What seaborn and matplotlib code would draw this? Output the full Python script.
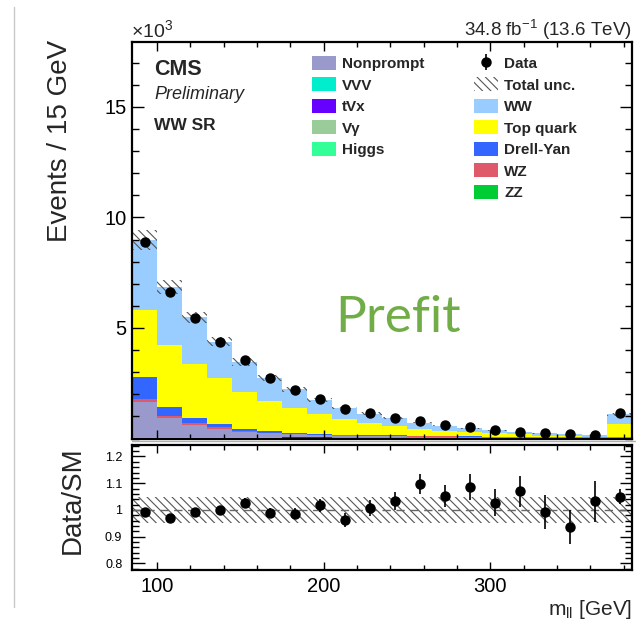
import numpy as np
import pandas as pd
import matplotlib
matplotlib.use("Agg")
import matplotlib.pyplot as plt
import seaborn as sns
from matplotlib.patches import Patch
from matplotlib.lines import Line2D
from matplotlib.ticker import MultipleLocator, FixedLocator, FuncFormatter, NullFormatter

# ---------------- data (events in thousands, 15 GeV bins) ----------------
bin_edges = [85, 100, 115, 130, 145, 160, 175, 190, 205, 220, 235,
             250, 265, 280, 295, 310, 325, 340, 355, 370, 385]

data = [8.90, 6.64, 5.43, 4.38, 3.55, 2.72, 2.19, 1.77, 1.33, 1.14,
        0.94, 0.79, 0.61, 0.51, 0.38, 0.31, 0.235, 0.19, 0.16, 1.14]
data_err = [0.09, 0.08, 0.07, 0.066, 0.06, 0.052, 0.047, 0.042, 0.036, 0.034,
            0.03, 0.027, 0.024, 0.023, 0.019, 0.017, 0.015, 0.013, 0.012, 0.03]

ww = [3.17, 2.62, 2.11, 1.66, 1.34, 1.05, 0.84, 0.65, 0.51, 0.44,
      0.34, 0.28, 0.23, 0.17, 0.12, 0.10, 0.107, 0.103, 0.075, 0.446]
top = [3.04, 2.79, 2.43, 2.06, 1.69, 1.37, 1.12, 0.87, 0.69, 0.53,
       0.43, 0.32, 0.24, 0.20, 0.16, 0.11, 0.06, 0.035, 0.02, 0.55]
dy = [1.00, 0.42, 0.25, 0.15, 0.07, 0.06, 0.05, 0.04, 0.03, 0.025,
      0.02, 0.02, 0.015, 0.015, 0.012, 0.01, 0.008, 0.007, 0.007, 0.01]
wz = [0.11, 0.08, 0.08, 0.08, 0.07, 0.04, 0.02, 0.02, 0.015, 0.015,
      0.015, 0.01, 0.01, 0.01, 0.008, 0.008, 0.007, 0.006, 0.006, 0.01]
nonprompt = [1.57, 0.86, 0.54, 0.365, 0.23, 0.175, 0.14, 0.11, 0.09, 0.08,
             0.065, 0.055, 0.05, 0.045, 0.04, 0.037, 0.03, 0.032, 0.027, 0.03]
zz = [0.045, 0.040, 0.035, 0.033, 0.030, 0.028, 0.025, 0.025, 0.023, 0.020,
      0.020, 0.018, 0.018, 0.015, 0.015, 0.013, 0.013, 0.010, 0.010, 0.020]
higgs = [0.023, 0.020, 0.018, 0.016, 0.015, 0.014, 0.013, 0.013, 0.011, 0.010,
         0.010, 0.009, 0.009, 0.008, 0.008, 0.006, 0.006, 0.005, 0.005, 0.010]
vgamma = [0.012, 0.011, 0.010, 0.009, 0.008, 0.007, 0.007, 0.007, 0.006, 0.006,
          0.006, 0.005, 0.005, 0.004, 0.004, 0.003, 0.003, 0.003, 0.003, 0.005]
tvx = [0.006, 0.005, 0.004, 0.004, 0.004, 0.003, 0.003, 0.003, 0.003, 0.002,
       0.002, 0.002, 0.002, 0.002, 0.002, 0.002, 0.002, 0.001, 0.001, 0.003]
vvv = [0.004, 0.004, 0.003, 0.003, 0.003, 0.003, 0.002, 0.002, 0.002, 0.002,
       0.002, 0.001, 0.001, 0.001, 0.001, 0.001, 0.001, 0.001, 0.001, 0.002]
unc_frac = [0.048, 0.048, 0.048, 0.048, 0.048, 0.048, 0.048, 0.048, 0.048, 0.048,
            0.048, 0.048, 0.048, 0.048, 0.048, 0.048, 0.048, 0.048, 0.048, 0.048]

processes = ["WW", "Top quark", "Drell-Yan", "WZ", "Nonprompt",
             "VVV", "tVx", "V\u03b3", "Higgs", "ZZ"]       # top -> bottom
proc_values = [ww, top, dy, wz, nonprompt, vvv, tvx, vgamma, higgs, zz]
colors = {"WW": "#99ccff", "Top quark": "#ffff00", "Drell-Yan": "#3366ff",
          "WZ": "#de5a6a", "Nonprompt": "#9999cc", "VVV": "#00eecc",
          "tVx": "#6600ff", "V\u03b3": "#99cc99", "Higgs": "#33ff99", "ZZ": "#00cc33"}

# ---------------- style ----------------
sns.set_style("ticks")
plt.rcParams['font.family'] = ['Liberation Sans', 'DejaVu Sans']
plt.rcParams['mathtext.fontset'] = 'custom'
plt.rcParams['mathtext.rm'] = 'Liberation Sans'
plt.rcParams['mathtext.it'] = 'Liberation Sans:italic'
plt.rcParams['mathtext.bf'] = 'Liberation Sans:bold'
plt.rcParams['hatch.linewidth'] = 0.8

W, H = 636, 621
fig = plt.figure(figsize=(W / 100, H / 100), dpi=100)


def fx(px):
    return px / W


def fy(py):
    return 1 - py / H


ax = fig.add_axes([fx(132), fy(438.5), fx(632) - fx(132), fy(41.7) - fy(438.5)])
axr = fig.add_axes([fx(132), fy(570), fx(632) - fx(132), fy(445) - fy(570)])
ax.set_axisbelow(False)
axr.set_axisbelow(False)

# pad border lines of the original canvas
fig.add_artist(Line2D([fx(14.5), fx(14.5)], [fy(7), fy(607)], color="#c8c8c8", lw=1.0))
fig.add_artist(Line2D([fx(132), fx(636)], [fy(441), fy(441)], color="#b0b0b0", lw=1.0))

centers = [0.5 * (a + b) for a, b in zip(bin_edges[:-1], bin_edges[1:])]

rows = []
for name, vals in zip(processes, proc_values):
    for c, v in zip(centers, vals):
        rows.append({"mll": c, "w": v, "process": name})
df = pd.DataFrame(rows)

sns.histplot(data=df, x="mll", weights="w", hue="process", hue_order=processes,
             palette=colors, multiple="stack", bins=list(bin_edges), element="bars",
             linewidth=0, alpha=1, legend=False, ax=ax)

edges = np.array(bin_edges, dtype=float)
centers = np.array(centers)
mc_total = np.sum(np.array(proc_values), axis=0)
unc = np.array(unc_frac) * mc_total
lo = np.append(mc_total - unc, (mc_total - unc)[-1])
hi = np.append(mc_total + unc, (mc_total + unc)[-1])
ax.fill_between(edges, lo, hi, step="post", facecolor="none",
                edgecolor="#555555", hatch="\\\\\\\\", linewidth=0, zorder=3)

dat = np.array(data)
derr = np.array(data_err)
eb = ax.errorbar(centers, dat, yerr=derr, fmt="o", color="black", ms=6.5,
                 elinewidth=1.2, capsize=0, zorder=5)

TICKC = "black"

ax.set_xlim(85, 385)
ax.set_ylim(0, 17.95)
ax.set_xlabel("")
ax.set_ylabel("")
ax.xaxis.set_major_locator(MultipleLocator(100))
ax.xaxis.set_minor_locator(MultipleLocator(20))
ax.xaxis.set_major_formatter(NullFormatter())
ax.yaxis.set_major_locator(FixedLocator([5, 10, 15]))
ax.yaxis.set_minor_locator(MultipleLocator(1))
ax.tick_params(axis="both", which="both", direction="in", top=True, right=True,
               bottom=True, left=True, width=1.0, color=TICKC, labelcolor="black")
ax.tick_params(axis="y", which="major", length=8.6, labelsize=14.5, pad=4)
ax.tick_params(axis="y", which="minor", length=4.7)
ax.tick_params(axis="x", which="major", length=6.5)
ax.tick_params(axis="x", which="minor", length=3.6)
for s in ax.spines.values():
    s.set_visible(True)
    s.set_linewidth(1.6)
    s.set_color("black")
    s.set_zorder(6)

# ---------------- ratio ----------------
ratio = dat / mc_total
ratio_err = derr / mc_total
band = np.array(unc_frac)
rlo = np.append(1 - band, 1 - band[-1])
rhi = np.append(1 + band, 1 + band[-1])
axr.fill_between(edges, rlo, rhi, step="post", facecolor="none",
                 edgecolor="#555555", hatch="\\\\\\\\", linewidth=0, zorder=2)
axr.axhline(1.0, color="#666666", lw=1.0, ls=(0, (6, 4)), zorder=3)
axr.errorbar(centers, ratio, yerr=ratio_err, fmt="o", color="black", ms=6.5,
             elinewidth=1.2, capsize=0, zorder=5)
axr.set_xlim(85, 385)
axr.set_ylim(0.775, 1.243)
axr.xaxis.set_major_locator(MultipleLocator(100))
axr.xaxis.set_minor_locator(MultipleLocator(20))
axr.yaxis.set_major_locator(FixedLocator([0.8, 0.9, 1.0, 1.1, 1.2]))
axr.yaxis.set_minor_locator(MultipleLocator(0.02))
axr.yaxis.set_major_formatter(FuncFormatter(lambda v, p: "%g" % round(v, 2)))
axr.tick_params(axis="both", which="both", direction="in", top=True, right=True,
                bottom=True, left=True, width=1.0, color=TICKC, labelcolor="black")
axr.tick_params(axis="y", which="major", length=9, labelsize=9, pad=7)
axr.tick_params(axis="y", which="minor", length=5)
axr.tick_params(axis="x", which="major", length=6, labelsize=14.5, pad=5)
axr.tick_params(axis="x", which="minor", length=3.5)
for s in axr.spines.values():
    s.set_visible(True)
    s.set_linewidth(1.6)
    s.set_color("black")
    s.set_zorder(6)

# ---------------- labels & texts ----------------
fig.text(fx(60), fy(40), "Events / 15 GeV", rotation=90, ha="center", va="top",
         fontsize=20)
fig.text(fx(73), fy(446), "Data/SM", rotation=90, ha="center", va="top",
         fontsize=20)
fig.text(fx(632), fy(615), r"m$_{\mathregular{ll}}$ [GeV]", ha="right",
         va="baseline", fontsize=15)
fig.text(fx(131), fy(37), r"$\times$10$^{3}$", ha="left", va="baseline", fontsize=14)
fig.text(fx(632), fy(36), r"34.8 fb$^{-1}$ (13.6 TeV)", ha="right",
         va="baseline", fontsize=13.5)
fig.text(fx(154), fy(75), "CMS", ha="left", va="baseline", fontsize=15.5,
         fontweight="bold")
fig.text(fx(154), fy(99), "Preliminary", ha="left", va="baseline", fontsize=13,
         fontstyle="italic")
fig.text(fx(154), fy(130), "WW SR", ha="left", va="baseline", fontsize=12.5,
         fontweight="bold")
fig.text(fx(398), fy(332), "Prefit", ha="center", va="baseline", fontsize=37,
         color="#70ad47", family=["Lato", "DejaVu Sans"])

# ---------------- legends ----------------
leg1_names = ["Nonprompt", "VVV", "tVx", "V\u03b3", "Higgs"]
h1 = [Patch(facecolor=colors[n], edgecolor="none") for n in leg1_names]
unc_handle = Patch(facecolor="white", edgecolor="#555555", hatch="\\\\\\\\", linewidth=0)
leg2_names = ["WW", "Top quark", "Drell-Yan", "WZ", "ZZ"]
h2 = [eb, unc_handle] + [Patch(facecolor=colors[n], edgecolor="none") for n in leg2_names]
l2 = ["Data", "Total unc."] + leg2_names

common = dict(frameon=False, borderpad=0, borderaxespad=0, handlelength=1.55,
              handleheight=1.0, handletextpad=0.42, labelspacing=0.42,
              prop={"size": 11, "weight": "bold"}, loc="upper left",
              bbox_transform=fig.transFigure)
leg1 = ax.legend(h1, leg1_names, bbox_to_anchor=(fx(312), fy(56)), **common)
ax.add_artist(leg1)
ax.legend(h2, l2, bbox_to_anchor=(fx(474), fy(56)), **common)

fig.savefig("out.png", dpi=100)
